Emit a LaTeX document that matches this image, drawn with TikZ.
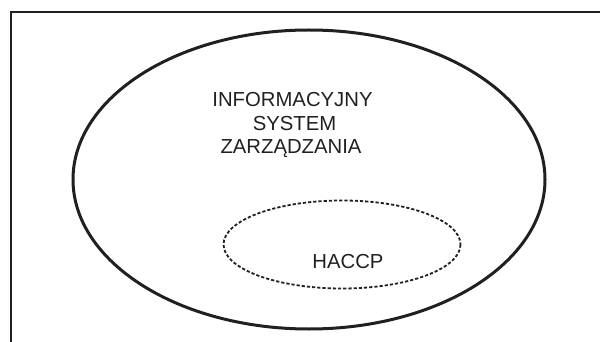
\documentclass[tikz,border=0pt]{standalone}
\usepackage{fontspec}
\setmainfont{Liberation Sans}
\definecolor{ink}{HTML}{231F20}
\begin{document}
\begin{tikzpicture}[x=1pt,y=-1pt,
  lbl/.style={inner sep=0pt,anchor=base,font=\fontsize{20.3}{24}\selectfont,text=ink},
  frameline/.style={line width=2.2pt,draw=ink},
  mainell/.style={line width=3pt,draw=ink},
  subell/.style={line width=1.8pt,draw=ink,dash pattern=on 3.2pt off 2pt}]
\useasboundingbox (0,0) rectangle (600,342);
\coordinate (fb) at (11,343);
\coordinate (fc) at (11,12);
\coordinate (fr) at (601,12);
\draw[frameline] (fb) -- (fc) -- (fr);
\draw[mainell] (309,179.5) ellipse [x radius=236, y radius=149.5];
\draw[subell] (342,244.5) ellipse [x radius=118.5, y radius=44];
\node[lbl] (t1) at (292.5,107) {INFORMACYJNY};
\node[lbl] (t2) at (294.5,131) {SYSTEM};
\node[lbl] (t3) at (291,154) {ZARZĄDZANIA};
\node[lbl] (h) at (348,268) {HACCP};
\end{tikzpicture}
\end{document}
